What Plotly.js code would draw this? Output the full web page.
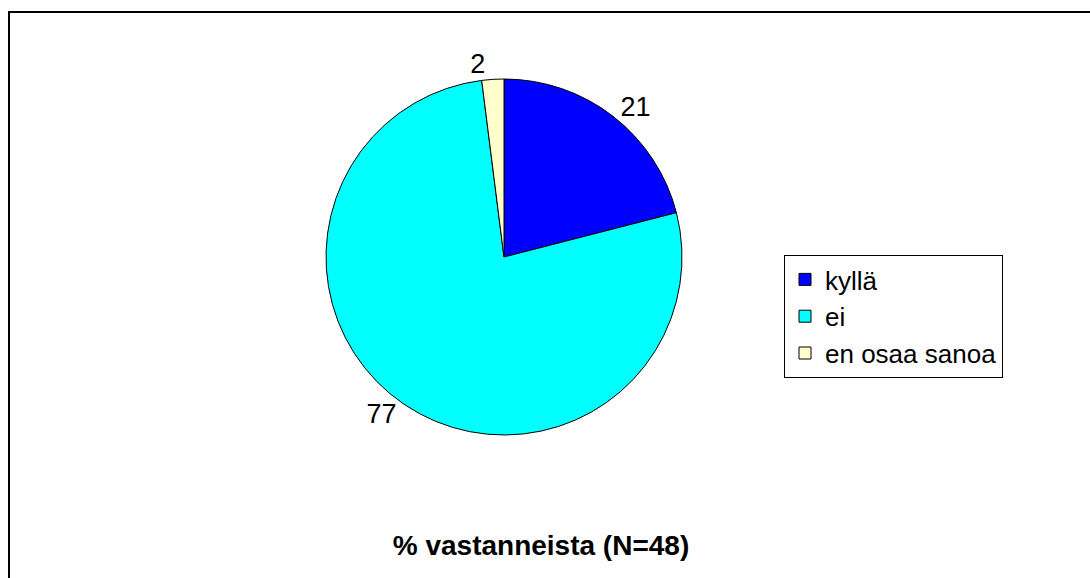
<!DOCTYPE html>
<html>
<head>
<meta charset="utf-8">
<script src="https://cdn.plot.ly/plotly-3.0.1.min.js"></script>
<style>
html,body{margin:0;padding:0;background:#fff;}
#chart{width:1090px;height:578px;}
</style>
</head>
<body>
<div id="chart"></div>
<script>
const categories = ["kyllä", "ei", "en osaa sanoa"];
const values = [21, 77, 2];
const colors = ["#0000FF", "#00FFFF", "#FFFFCC"];
const chartTitle = "% vastanneista (N=48)";

const W = 1090, H = 578;
const trace = {
  type: "pie",
  labels: categories,
  values: values,
  text: values.map(String),
  textinfo: "text",
  textposition: "outside",
  sort: false,
  direction: "clockwise",
  rotation: 0,
  marker: {colors: colors, line: {color: "#000000", width: 1}},
  textfont: {family: "Liberation Sans, Arial, sans-serif", size: 27, color: "#000"},
  domain: {x: [326 / W, 682 / W], y: [(H - 435) / H, (H - 79) / H]},
  hoverinfo: "none",
  automargin: false
};

const layout = {
  width: W, height: H,
  margin: {l: 0, r: 0, t: 0, b: 0},
  paper_bgcolor: "#fff",
  font: {family: "Liberation Sans, Arial, sans-serif", color: "#000"},
  title: {
    text: "<b>" + chartTitle + "</b>",
    font: {family: "Liberation Sans, Arial, sans-serif", size: 28, color: "#000"},
    x: 541 / W, xref: "paper", xanchor: "center",
    y: 1 - 545 / H, yref: "paper", yanchor: "middle"
  },
  showlegend: true,
  legend: {
    x: 784 / W, xanchor: "left",
    y: 1 - 255 / H, yanchor: "top",
    bordercolor: "#000", borderwidth: 1, bgcolor: "#fff",
    font: {family: "Liberation Sans, Arial, sans-serif", size: 26, color: "#000"},
    traceorder: "normal"
  },
  shapes: [{
    type: "rect", xref: "paper", yref: "paper",
    x0: 9 / W, x1: 1.05, y0: -0.05, y1: 1 - 12 / H,
    line: {color: "#000", width: 2}, fillcolor: "rgba(0,0,0,0)"
  }]
};

Plotly.newPlot("chart", [trace], layout, {displayModeBar: false, staticPlot: true});
</script>
</body>
</html>
